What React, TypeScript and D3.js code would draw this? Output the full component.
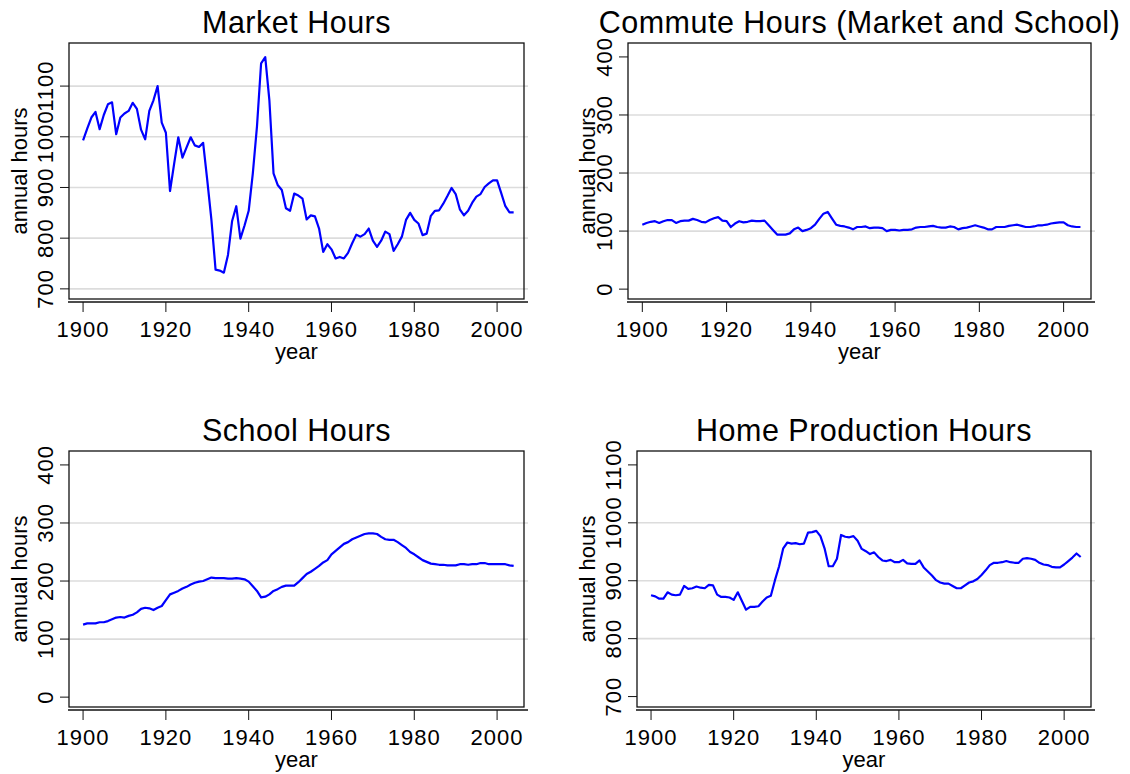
import React from 'react';
import * as d3 from 'd3';

// annual data, 1900-2004
const years = [
  1900, 1901, 1902, 1903, 1904, 1905, 1906, 1907, 1908, 1909,
  1910, 1911, 1912, 1913, 1914, 1915, 1916, 1917, 1918, 1919,
  1920, 1921, 1922, 1923, 1924, 1925, 1926, 1927, 1928, 1929,
  1930, 1931, 1932, 1933, 1934, 1935, 1936, 1937, 1938, 1939,
  1940, 1941, 1942, 1943, 1944, 1945, 1946, 1947, 1948, 1949,
  1950, 1951, 1952, 1953, 1954, 1955, 1956, 1957, 1958, 1959,
  1960, 1961, 1962, 1963, 1964, 1965, 1966, 1967, 1968, 1969,
  1970, 1971, 1972, 1973, 1974, 1975, 1976, 1977, 1978, 1979,
  1980, 1981, 1982, 1983, 1984, 1985, 1986, 1987, 1988, 1989,
  1990, 1991, 1992, 1993, 1994, 1995, 1996, 1997, 1998, 1999,
  2000, 2001, 2002, 2003, 2004,
];

const marketHours = [
  993, 1016, 1038, 1049, 1015, 1043, 1064, 1068, 1005, 1038,
  1046, 1051, 1067, 1055, 1014, 995, 1051, 1072, 1100, 1028,
  1008, 893, 947, 999, 959, 979, 999, 983, 980, 988,
  914, 836, 738, 736, 732, 767, 834, 863, 799, 825,
  854, 928, 1020, 1145, 1157, 1072, 928, 905, 895, 859,
  854, 888, 884, 878, 837, 845, 843, 819, 773, 788,
  778, 760, 763, 760, 771, 790, 807, 803, 808, 819,
  795, 783, 795, 813, 808, 775, 788, 803, 836, 850,
  836, 829, 806, 809, 844, 854, 855, 868, 883, 899,
  887, 857, 845, 854, 870, 882, 887, 901, 908, 914,
  914, 889, 863, 851, 851,
];

const commuteHours = [
  111, 114, 116, 117, 114, 117, 119, 119, 114, 117,
  118, 118, 121, 119, 116, 115, 119, 122, 124, 118,
  117, 107, 113, 117, 115, 116, 118, 117, 117, 118,
  110, 102, 94, 94, 94, 96, 103, 106, 100, 102,
  105, 111, 121, 130, 133, 122, 111, 109, 108, 106,
  103, 107, 107, 108, 105, 106, 106, 105, 100, 102,
  102, 101, 102, 102, 103, 106, 107, 107, 108, 109,
  107, 106, 106, 108, 107, 103, 105, 106, 108, 110,
  108, 106, 103, 103, 107, 107, 107, 109, 110, 111,
  109, 107, 107, 108, 110, 110, 111, 113, 114, 115,
  115, 110, 108, 107, 107,
];

const schoolHours = [
  125, 127, 127, 127, 129, 129, 131, 134, 137, 138,
  137, 140, 142, 146, 152, 154, 153, 150, 154, 157,
  167, 177, 180, 183, 187, 190, 194, 197, 199, 200,
  203, 206, 205, 205, 205, 204, 204, 205, 204, 203,
  199, 191, 183, 172, 173, 177, 183, 186, 190, 192,
  192, 192, 198, 205, 212, 216, 221, 226, 232, 236,
  246, 252, 258, 264, 267, 272, 275, 278, 281, 282,
  282, 281, 276, 272, 271, 271, 267, 262, 257, 250,
  246, 241, 236, 233, 230, 229, 228, 228, 227, 227,
  227, 229, 229, 228, 229, 229, 231, 231, 229, 229,
  229, 229, 229, 227, 226,
];

const homeHours = [
  875, 873, 869, 869, 880, 876, 875, 876, 891, 886,
  887, 890, 888, 887, 893, 892, 876, 872, 872, 871,
  867, 880, 865, 850, 855, 855, 856, 864, 871, 874,
  901, 925, 956, 966, 964, 965, 963, 964, 983, 984,
  986, 977, 956, 925, 925, 938, 979, 976, 975, 977,
  969, 955, 951, 946, 949, 941, 935, 934, 936, 932,
  932, 936, 930, 929, 929, 935, 923, 916, 909, 901,
  897, 895, 895, 891, 887, 887, 892, 897, 899, 903,
  910, 918, 927, 931, 931, 932, 934, 932, 931, 931,
  938, 939, 938, 936, 931, 928, 927, 924, 923, 923,
  928, 934, 940, 947, 941,
];

const xTicks = [1900, 1920, 1940, 1960, 1980, 2000];
const marketTicks = [700, 800, 900, 1000, 1100];
const hoursTicks = [0, 100, 200, 300, 400];
const homeTicks = [700, 800, 900, 1000, 1100];

const font = "'Liberation Sans', Arial, Helvetica, sans-serif";

const panels = [
  {
    title: 'Market Hours', values: marketHours, ticks: marketTicks, grid: marketTicks,
    yDomain: [680, 1185], left: 69, right: 524, top: 43, bottom: 299, ytitleGap: 42,
  },
  {
    title: 'Commute Hours (Market and School)', values: commuteHours, ticks: hoursTicks, grid: [100, 200, 300],
    yDomain: [-17, 424], left: 628, right: 1091, top: 43, bottom: 299, ytitleGap: 33,
  },
  {
    title: 'School Hours', values: schoolHours, ticks: hoursTicks, grid: [100, 200, 300],
    yDomain: [-17, 424], left: 69, right: 524, top: 451, bottom: 707, ytitleGap: 42,
  },
  {
    title: 'Home Production Hours', values: homeHours, ticks: homeTicks, grid: [800, 900, 1000],
    yDomain: [682, 1124], left: 637, right: 1091, top: 451, bottom: 707, ytitleGap: 42,
  },
];

const Panel = ({ p }) => {
  const x = d3.scaleLinear().domain([1896.6, 2006.5]).range([p.left, p.right]);
  const y = d3.scaleLinear().domain(p.yDomain).range([p.bottom, p.top]);
  const line = d3.line<number>()
    .x((d, i) => x(years[i]))
    .y(d => y(d));
  const cx = (p.left + p.right) / 2;
  const cy = (p.top + p.bottom) / 2;

  return (
    <g fontFamily={font} fill="#000">
      <text x={cx} y={p.top - 10} textAnchor="middle" fontSize={30.5} letterSpacing={0.5}>{p.title}</text>

      {/* grid lines */}
      {p.grid.map(t => (
        <line key={'g' + t} x1={p.left} x2={p.right + 4} y1={y(t)} y2={y(t)}
          stroke="#dcdcdc" strokeWidth={1.6} />
      ))}

      <path d={line(p.values) || ''} fill="none" stroke="#0000ff" strokeWidth={2.2}
        strokeLinejoin="round" />

      <rect x={p.left} y={p.top} width={p.right - p.left} height={p.bottom - p.top}
        fill="none" stroke="#111" strokeWidth={1.3} />

      {/* y axis */}
      {p.ticks.map(t => (
        <g key={'y' + t}>
          <line x1={p.left - 9} x2={p.left} y1={y(t)} y2={y(t)} stroke="#111" strokeWidth={1} />
          <text transform={`translate(${p.left - 16},${y(t)}) rotate(-90)`} textAnchor="middle"
            fontSize={22} letterSpacing={1}>{t}</text>
        </g>
      ))}
      <text transform={`translate(${p.left - p.ytitleGap},${cy}) rotate(-90)`} textAnchor="middle"
        fontSize={22}>annual hours</text>

      {/* x axis */}
      <line x1={p.left - 1} x2={p.right + 4} y1={p.bottom + 3} y2={p.bottom + 3}
        stroke="#111" strokeWidth={1.3} />
      {xTicks.map(t => (
        <g key={'x' + t}>
          <line x1={x(t)} x2={x(t)} y1={p.bottom + 3} y2={p.bottom + 13} stroke="#111" strokeWidth={1} />
          <text x={x(t)} y={p.bottom + 38} textAnchor="middle" fontSize={22} letterSpacing={1}>{t}</text>
        </g>
      ))}
      <text x={cx} y={p.bottom + 60} textAnchor="middle" fontSize={22}>year</text>
    </g>
  );
};

export default function App() {
  return (
    <svg width={1130} height={774} style={{ position: 'absolute', left: 0, top: 0, background: '#fff' }}>
      <rect width={1130} height={774} fill="#fff" />
      {panels.map(p => <Panel key={p.title} p={p} />)}
    </svg>
  );
}
